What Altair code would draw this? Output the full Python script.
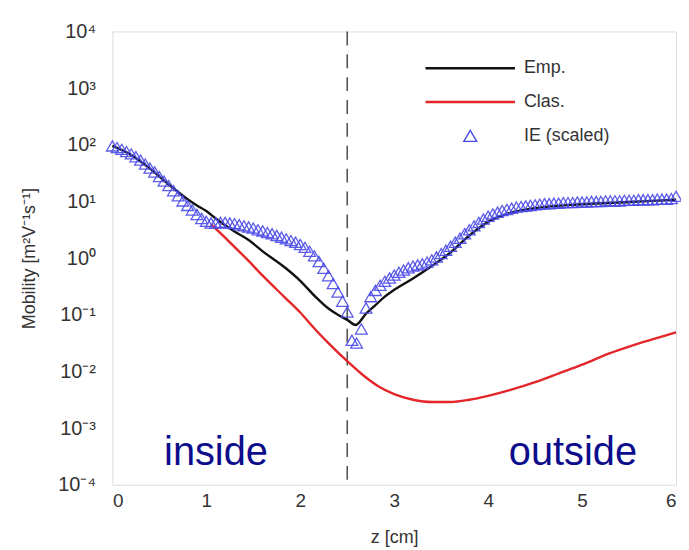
import altair as alt
import pandas as pd

# ---- data (mobility given as log10 values) ----
z_ie = [0.00, 0.05, 0.10, 0.15, 0.20, 0.25, 0.30, 0.35, 0.40, 0.45,
        0.50, 0.55, 0.60, 0.65, 0.70, 0.75, 0.80, 0.85, 0.90, 0.95,
        1.00, 1.05, 1.10, 1.15, 1.20, 1.25, 1.30, 1.35, 1.40, 1.45,
        1.50, 1.55, 1.60, 1.65, 1.70, 1.75, 1.80, 1.85, 1.90, 1.95,
        2.00, 2.05, 2.10, 2.15, 2.20, 2.25, 2.30, 2.35, 2.40, 2.45,
        2.50, 2.55, 2.60, 2.65, 2.70, 2.75, 2.80, 2.85, 2.90, 2.95,
        3.00, 3.05, 3.10, 3.15, 3.20, 3.25, 3.30, 3.35, 3.40, 3.45,
        3.50, 3.55, 3.60, 3.65, 3.70, 3.75, 3.80, 3.85, 3.90, 3.95,
        4.00, 4.05, 4.10, 4.15, 4.20, 4.25, 4.30, 4.35, 4.40, 4.45,
        4.50, 4.55, 4.60, 4.65, 4.70, 4.75, 4.80, 4.85, 4.90, 4.95,
        5.00, 5.05, 5.10, 5.15, 5.20, 5.25, 5.30, 5.35, 5.40, 5.45,
        5.50, 5.55, 5.60, 5.65, 5.70, 5.75, 5.80, 5.85, 5.90, 5.95,
        6.00]
ie_log10 = [1.98, 1.95, 1.92, 1.88, 1.84, 1.79, 1.73, 1.66, 1.59, 1.52,
            1.44, 1.36, 1.28, 1.19, 1.10, 1.01, 0.93, 0.85, 0.77, 0.70,
            0.65, 0.62, 0.62, 0.63, 0.63, 0.62, 0.61, 0.59, 0.57, 0.55,
            0.53, 0.50, 0.48, 0.45, 0.43, 0.40, 0.37, 0.34, 0.31, 0.28,
            0.24, 0.19, 0.12, 0.04, -0.06, -0.18, -0.31, -0.45, -0.60, -0.76,
            -0.95, -1.45, -1.50, -1.25, -0.88, -0.68, -0.57, -0.48, -0.41, -0.35,
            -0.30, -0.25, -0.21, -0.17, -0.14, -0.12, -0.10, -0.07, -0.03, 0.02,
            0.08, 0.14, 0.21, 0.28, 0.35, 0.43, 0.50, 0.57, 0.63, 0.69,
            0.74, 0.78, 0.81, 0.84, 0.86, 0.88, 0.90, 0.91, 0.92, 0.93,
            0.94, 0.95, 0.96, 0.96, 0.97, 0.97, 0.98, 0.98, 0.98, 0.99,
            0.99, 0.99, 1.00, 1.00, 1.00, 1.01, 1.01, 1.01, 1.01, 1.02,
            1.02, 1.02, 1.03, 1.03, 1.03, 1.03, 1.04, 1.04, 1.04, 1.05,
            1.09]

z_emp = [0.0, 0.2, 0.4, 0.6, 0.8, 0.9, 1.0, 1.1, 1.2, 1.3, 1.45, 1.6, 1.84,
         2.0, 2.16, 2.3, 2.4, 2.5, 2.59, 2.7, 2.8, 2.9, 3.0, 3.2, 3.4, 3.6,
         3.8, 4.0, 4.2, 4.5, 5.0, 5.5, 6.0]
emp_log10 = [1.98, 1.82, 1.58, 1.30, 1.04, 0.93, 0.83, 0.70, 0.58, 0.47, 0.32,
             0.12, -0.17, -0.40, -0.68, -0.89, -1.00, -1.09, -1.18, -0.98,
             -0.83, -0.68, -0.56, -0.36, -0.14, 0.10, 0.40, 0.64, 0.78, 0.88,
             0.95, 0.99, 1.03]

z_clas = [1.05, 1.2, 1.45, 1.6, 1.84, 2.0, 2.16, 2.3, 2.5, 2.65, 2.83, 3.0,
          3.2, 3.4, 3.6, 3.8, 4.0, 4.23, 4.5, 4.76, 5.0, 5.29, 5.5, 5.82, 6.0]
clas_log10 = [0.60, 0.36, -0.05, -0.31, -0.70, -0.96, -1.26, -1.50, -1.82,
              -2.04, -2.26, -2.40, -2.50, -2.54, -2.54, -2.50, -2.43, -2.33,
              -2.19, -2.03, -1.88, -1.68, -1.56, -1.40, -1.31]

series_names = ["Emp.", "Clas.", "IE (scaled)"]
series_colors = ["#111111", "#e3262a", "#4b4be8"]

y_ticks = [1e-4, 1e-3, 1e-2, 1e-1, 1e0, 1e1, 1e2, 1e3, 1e4]
y_tick_labels = ["10⁻⁴", "10⁻³", "10⁻²", "10⁻¹", "10⁰", "10¹", "10²", "10³", "10⁴"]
x_ticks = [0, 1, 2, 3, 4, 5, 6]

region_labels = ["inside", "outside"]
region_z = [0.55, 4.22]
region_log10 = [-3.65, -3.65]

divider_z = [2.5]

# ---- tables ----
lines_df = pd.concat([
    pd.DataFrame({"z": z_emp, "mob": [10 ** v for v in emp_log10], "series": "Emp.", "ord": 0}),
    pd.DataFrame({"z": z_clas, "mob": [10 ** v for v in clas_log10], "series": "Clas.", "ord": 1}),
], ignore_index=True)
ie_df = pd.DataFrame({"z": z_ie, "mob": [10 ** v for v in ie_log10]})
text_df = pd.DataFrame({"label": region_labels, "z": region_z,
                        "mob": [10 ** v for v in region_log10]})
rule_df = pd.DataFrame({"z": divider_z})

FONT = "Liberation Sans"
TXT = "#333333"

label_expr = "[" + ",".join("'%s'" % s for s in y_tick_labels) + "][round(log(datum.value)/LN10)+4]"

xscale = alt.Scale(domain=[0, 6], nice=False, zero=False)
yscale = alt.Scale(type="log", domain=[1e-4, 1e4], nice=False)

xaxis = alt.Axis(values=x_ticks, format="d", title="z [cm]", grid=False, ticks=False,
                 domain=False, labelFont=FONT, labelFontSize=19, labelColor=TXT,
                 labelPadding=7, titleFont=FONT, titleFontSize=18, titleFontWeight="normal",
                 titleColor=TXT, titleY=53, titleBaseline="middle")
yaxis = alt.Axis(values=y_ticks, labelExpr=label_expr, title="Mobility [m²V⁻¹s⁻¹]",
                 grid=False, ticks=False, domain=False, labelFont=FONT, labelFontSize=20,
                 labelColor=TXT, labelPadding=17, titleFont=FONT, titleFontSize=18,
                 titleFontWeight="normal", titleColor=TXT, titleX=-83, titleY=228,
                 titleBaseline="middle", titleAngle=-90, titleAlign="center")

IS_IE = "datum.value === 'IE (scaled)'"
legend = alt.Legend(
    title=None, orient="none", legendX=351, legendY=28, padding=0,
    symbolType=alt.ExprRef(expr=IS_IE + " ? 'M0,-0.62L0.72,0.62L-0.72,0.62Z' : 'M-5,0H5'"),
    symbolSize=324,
    symbolStrokeWidth=alt.ExprRef(expr=IS_IE + " ? 1.4 : 2.6"),
    symbolFillColor="transparent",
    labelOffset=45, labelFont=FONT, labelFontSize=18, labelColor=TXT, rowPadding=16,
)

rule = alt.Chart(rule_df).mark_rule(strokeDash=[14, 9], color="#555555", strokeWidth=1.6).encode(
    x=alt.X("z:Q", scale=xscale, axis=xaxis)
)

lines = alt.Chart(lines_df).mark_line(strokeWidth=2.4, interpolate="monotone").encode(
    x=alt.X("z:Q", scale=xscale, axis=xaxis),
    y=alt.Y("mob:Q", scale=yscale, axis=yaxis),
    color=alt.Color("series:N", scale=alt.Scale(domain=series_names, range=series_colors),
                    legend=legend),
    order="ord:Q",
)

points = alt.Chart(ie_df).mark_point(shape="triangle-up", filled=False, size=140,
                                     strokeWidth=1.3, color="#4b4be8", opacity=0.9).encode(
    x=alt.X("z:Q", scale=xscale, axis=xaxis),
    y=alt.Y("mob:Q", scale=yscale, axis=yaxis),
)

texts = alt.Chart(text_df).mark_text(align="left", baseline="alphabetic", fontSize=40,
                                     font=FONT, color="#0d0d8c").encode(
    x=alt.X("z:Q", scale=xscale, axis=xaxis),
    y=alt.Y("mob:Q", scale=yscale, axis=yaxis),
    text="label:N",
)

chart = alt.layer(rule, lines, points, texts).properties(
    width=567, height=456,
    padding={"left": 105, "top": 22, "right": 5, "bottom": 62},
    autosize=alt.AutoSizeParams(type="none"),
).configure_view(stroke="#555555", strokeWidth=1.6).configure(background="white")

chart.save("out.html", embed_options={"renderer": "svg", "actions": False})
